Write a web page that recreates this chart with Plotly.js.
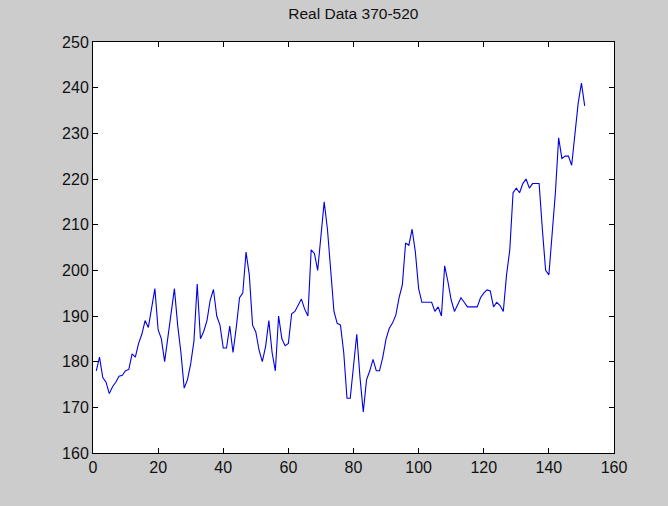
<!DOCTYPE html>
<html>
<head>
<meta charset="utf-8">
<script src="https://cdn.plot.ly/plotly-3.0.1.min.js"></script>
<style>html,body{margin:0;padding:0;background:#cccccc;}#chart{width:668px;height:506px;}</style>
</head>
<body>
<div id="chart"></div>
<script>
const chartTitle = "Real Data 370-520";
const values = [
  178, 181, 176.5, 175.5, 173, 174.5, 175.5, 176.8, 177, 178,
  178.3, 181.7, 181, 184, 186, 189, 187.5, 191.5, 196, 187,
  185, 180, 185.5, 190, 196, 188, 182, 174.2, 176, 179.5,
  184.5, 197, 185, 186.6, 189, 193.5, 195.8, 190, 188, 183,
  183, 187.8, 182, 187.5, 194, 195, 204, 199, 188, 186.5,
  182.5, 180, 183.3, 189, 182, 178, 190, 185, 183.5, 184,
  190.5, 191, 192.5, 193.7, 191.5, 190, 204.5, 203.7, 200, 207,
  215, 209, 199, 191, 188.4, 188, 182, 172, 172, 179,
  186, 176.5, 169, 176, 178, 180.5, 178, 178, 181, 185,
  187.3, 188.5, 190.2, 194, 196.8, 206, 205.5, 209, 204, 196,
  193, 193, 193, 193, 191, 192, 190, 201, 197.5, 193.5,
  191, 192.5, 194, 193, 192, 192, 192, 192, 194, 195,
  195.7, 195.5, 192, 193, 192.3, 191, 199, 204.5, 217, 218,
  217, 219, 220, 218, 219, 219, 219, 209, 200, 199,
  208, 217, 229, 224.5, 225, 225, 223, 230, 236.6, 241,
  236
];
const xValues = values.map((_, i) => i + 1);
const xTicks = [0, 20, 40, 60, 80, 100, 120, 140, 160];
const yTicks = [160, 170, 180, 190, 200, 210, 220, 230, 240, 250];

const trace = {
  x: xValues, y: values, type: 'scatter', mode: 'lines',
  line: {color: 'rgb(0,0,230)', width: 1.1}, hoverinfo: 'skip'
};
const axisCommon = {
  showgrid: false, zeroline: false, showline: true, linecolor: '#000', linewidth: 1,
  mirror: 'ticks', ticks: 'inside', ticklen: 5, tickcolor: '#000', tickwidth: 1,
  tickfont: {family: 'Liberation Sans, Arial, sans-serif', size: 16, color: '#111'}
};
const layout = {
  width: 668, height: 506,
  paper_bgcolor: '#cccccc', plot_bgcolor: '#ffffff',
  margin: {l: 93, r: 54, t: 42, b: 53},
  showlegend: false,
  title: {text: chartTitle, x: 0.529, xanchor: 'center', y: 0.974, yanchor: 'middle',
          font: {family: 'Liberation Sans, Arial, sans-serif', size: 15.5, color: '#111'}},
  xaxis: Object.assign({}, axisCommon, {range: [0, 160], tickvals: xTicks, ticktext: xTicks.map(String)}),
  yaxis: Object.assign({}, axisCommon, {range: [160, 250], tickvals: yTicks, ticktext: yTicks.map(String)})
};
Plotly.newPlot('chart', [trace], layout, {displayModeBar: false, staticPlot: true});
</script>
</body>
</html>
